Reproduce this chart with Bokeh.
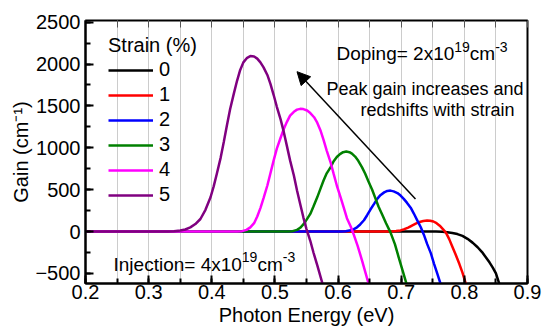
import math
from bokeh.plotting import figure
from bokeh.models import (Label, Arrow, NormalHead, Legend, LegendItem, LinearAxis,
                          Range1d, SingleIntervalTicker, FixedTicker)
from bokeh.embed import file_html
from bokeh.resources import INLINE

FONT = "Liberation Sans"

# ---------------- data ----------------
strain_labels = ["0", "1", "2", "3", "4", "5"]
colors = ["#000000", "#FF0000", "#0000FF", "#008000", "#FF00FF", "#800080"]

x_s0 = [0.20, 0.755, 0.765, 0.773, 0.781, 0.789, 0.797, 0.805, 0.813, 0.821, 0.828, 0.834, 0.840, 0.845, 0.850, 0.856]
y_s0 = [0, 0, -2, -8, -16, -30, -52, -87, -132, -187, -245, -307, -370, -430, -500, -640]

x_s1 = [0.20, 0.675, 0.685, 0.692, 0.699, 0.705, 0.711, 0.717, 0.723, 0.729, 0.735, 0.741, 0.746, 0.751,
        0.756, 0.761, 0.766, 0.771, 0.776, 0.781, 0.786, 0.792, 0.797, 0.803]
y_s1 = [0, 0, 2, 6, 14, 28, 48, 72, 96, 115, 127, 132, 130, 120, 100, 70, 30, -15, -90, -180, -270, -385, -490, -640]

x_s2 = [0.20, 0.605, 0.612, 0.620, 0.625, 0.630, 0.635, 0.641, 0.646, 0.651, 0.657, 0.662, 0.667, 0.673,
        0.678, 0.683, 0.688, 0.694, 0.699, 0.704, 0.709, 0.715, 0.720, 0.725, 0.731, 0.736, 0.741, 0.747,
        0.752, 0.757, 0.763]
y_s2 = [0, 0, 4, 15, 30, 51, 85, 135, 195, 260, 330, 390, 435, 468, 485, 489, 480, 460, 430, 390, 345, 285,
        215, 140, 51, -40, -147, -260, -385, -500, -640]

x_s3 = [0.20, 0.520, 0.528, 0.535, 0.540, 0.545, 0.550, 0.556, 0.561, 0.567, 0.572, 0.577, 0.582, 0.588,
        0.593, 0.598, 0.603, 0.608, 0.613, 0.618, 0.622, 0.627, 0.632, 0.638, 0.643, 0.648, 0.654, 0.659,
        0.664, 0.670, 0.676, 0.683, 0.690, 0.696, 0.702, 0.709]
y_s3 = [0, 0, 5, 20, 45, 85, 140, 211, 300, 409, 510, 609, 695, 767, 840, 890, 925, 948, 955, 948, 930, 895,
        845, 767, 690, 600, 500, 400, 300, 200, 100, -10, -150, -307, -460, -640]

x_s4 = [0.20, 0.440, 0.448, 0.455, 0.461, 0.467, 0.472, 0.477, 0.482, 0.488, 0.493, 0.498, 0.503, 0.509,
        0.514, 0.519, 0.524, 0.530, 0.535, 0.540, 0.545, 0.551, 0.556, 0.562, 0.567, 0.572, 0.577, 0.582,
        0.588, 0.593, 0.598, 0.604, 0.609, 0.614, 0.620, 0.625, 0.631, 0.638, 0.649]
y_s4 = [0, 0, 5, 20, 50, 100, 180, 280, 400, 550, 700, 850, 990, 1120, 1225, 1310, 1384, 1430, 1456, 1465,
        1462, 1445, 1415, 1365, 1300, 1210, 1095, 967, 830, 688, 550, 409, 285, 160, 60, -40, -170, -346, -640]

x_s5 = [0.20, 0.330, 0.340, 0.350, 0.358, 0.366, 0.374, 0.382, 0.390, 0.398, 0.403, 0.408, 0.414, 0.419,
        0.424, 0.429, 0.435, 0.440, 0.445, 0.450, 0.456, 0.461, 0.467, 0.472, 0.477, 0.482, 0.488, 0.493,
        0.498, 0.503, 0.509, 0.514, 0.519, 0.524, 0.530, 0.535, 0.540, 0.545, 0.550, 0.556, 0.561, 0.567, 0.576]
y_s5 = [0, 0, 4, 12, 25, 50, 90, 150, 260, 410, 540, 690, 880, 1070, 1270, 1460, 1650, 1800, 1930, 2020,
        2075, 2095, 2090, 2065, 2020, 1960, 1870, 1760, 1630, 1490, 1340, 1190, 1020, 850, 670, 490, 330,
        170, 30, -110, -250, -400, -640]

series_x = [x_s0, x_s1, x_s2, x_s3, x_s4, x_s5]
series_y = [y_s0, y_s1, y_s2, y_s3, y_s4, y_s5]

top_tick_positions = [0.20, 0.25, 0.30, 0.35, 0.40, 0.45, 0.50, 0.55, 0.60, 0.65, 0.70, 0.75, 0.80, 0.85, 0.90]

# ---------------- figure ----------------
W, H = 543, 331
FL, FR, FT, FB = 85, 16, 20, 48

p = figure(width=W, height=H, x_range=Range1d(0.2, 0.9), y_range=Range1d(-620, 2520),
           output_backend="svg", toolbar_location=None,
           min_border_left=FL, min_border_right=FR, min_border_top=FT, min_border_bottom=FB)
p.background_fill_color = "white"
p.border_fill_color = "white"
p.outline_line_color = "black"
p.outline_line_width = 2

p.xaxis.ticker = SingleIntervalTicker(interval=0.1, num_minor_ticks=2)
p.yaxis.ticker = SingleIntervalTicker(interval=500, num_minor_ticks=2)

for ax in (p.xaxis[0], p.yaxis[0]):
    ax.axis_line_width = 2
    ax.axis_line_color = "black"
    ax.major_tick_in = 8
    ax.major_tick_out = 0
    ax.minor_tick_in = 5
    ax.minor_tick_out = 0
    ax.major_tick_line_width = 2
    ax.minor_tick_line_width = 2
    ax.major_tick_line_color = "black"
    ax.minor_tick_line_color = "black"
    ax.major_label_text_font = FONT
    ax.major_label_text_font_size = "20px"
    ax.major_label_text_color = "black"
    ax.axis_label_text_font = FONT
    ax.axis_label_text_font_size = "20px"
    ax.axis_label_text_font_style = "normal"
    ax.axis_label_text_color = "black"

p.xaxis.axis_label = "Photon Energy (eV)"
p.xaxis.axis_label_standoff = 2
p.xaxis.major_label_standoff = 1
p.yaxis.axis_label = "Gain (cm\u207b\u00b9)"
p.yaxis.axis_label_standoff = 0
p.yaxis.major_label_standoff = 5

p.xgrid.grid_line_color = "#cccccc"
p.xgrid.minor_grid_line_color = "#cccccc"
p.xgrid.grid_line_width = 1
p.ygrid.grid_line_color = None

top = LinearAxis(ticker=FixedTicker(ticks=[], minor_ticks=top_tick_positions),
                 minor_tick_in=7, minor_tick_out=0, axis_line_color=None,
                 minor_tick_line_color="#555555", minor_tick_line_width=1,
                 major_label_standoff=0)
p.add_layout(top, "above")

renderers = []
for xs, ys, c in zip(series_x, series_y, colors):
    renderers.append(p.line(xs, ys, line_color=c, line_width=2.5))

legend = Legend(items=[LegendItem(label=lab, renderers=[r]) for lab, r in zip(strain_labels, renderers)],
                location=(23, 77), title="Strain (%)",
                title_text_font=FONT, title_text_font_size="20px", title_text_font_style="normal",
                title_text_color="black", title_standoff=1,
                label_text_font=FONT, label_text_font_size="20px", label_text_color="black",
                glyph_width=45, glyph_height=20, label_height=20, spacing=2, label_standoff=6,
                padding=0, margin=0, border_line_color=None, background_fill_alpha=0)
p.add_layout(legend)

p.add_layout(Arrow(end=NormalHead(size=13, fill_color="black", line_color="black"),
                   x_start=0.7226, y_start=390, x_end=0.535, y_end=1909,
                   line_width=1.5, line_color="black"))

# ---------------- rich text helpers ----------------
AW = {' ': .278, '(': .333, ')': .333, '-': .333, '=': .584, '%': .889, 'D': .722, 'G': .778, 'I': .278,
      'P': .667, 'a': .556, 'c': .5, 'd': .556, 'e': .556, 'f': .278, 'g': .556, 'h': .556, 'i': .222,
      'j': .222, 'k': .5, 'm': .833, 'n': .556, 'o': .556, 'p': .556, 'r': .333, 's': .5, 't': .278,
      'w': .722, 'x': .5}


def tw(s, size):
    return sum(AW.get(ch, 0.556) for ch in s) * size


def rich(pieces, X, Y):
    adv = 0.0
    for text, size, rise in pieces:
        sx, sy = X + adv, Y - rise
        p.add_layout(Label(x=sx - FL, y=(H - FB) - sy, x_units="screen", y_units="screen",
                           text=text, text_font=FONT, text_font_size=f"{size}px", text_color="black",
                           text_baseline="alphabetic", text_align="left"))
        adv += tw(text, size)


rich([("Doping= 2x10", 19, 0), ("19", 14, 7), ("cm", 19, 0), ("-3", 14, 7)], 336, 53)
rich([("Injection= 4x10", 19, 0), ("19", 14, 7), ("cm", 19, 0), ("-3", 14, 7)], 113, 263.5)
rich([("Peak gain increases and", 18, 0)], 326, 88.5)
rich([("redshifts with strain", 18, 0)], 360, 109.5)

open("out.html", "w").write(file_html(p, INLINE))
